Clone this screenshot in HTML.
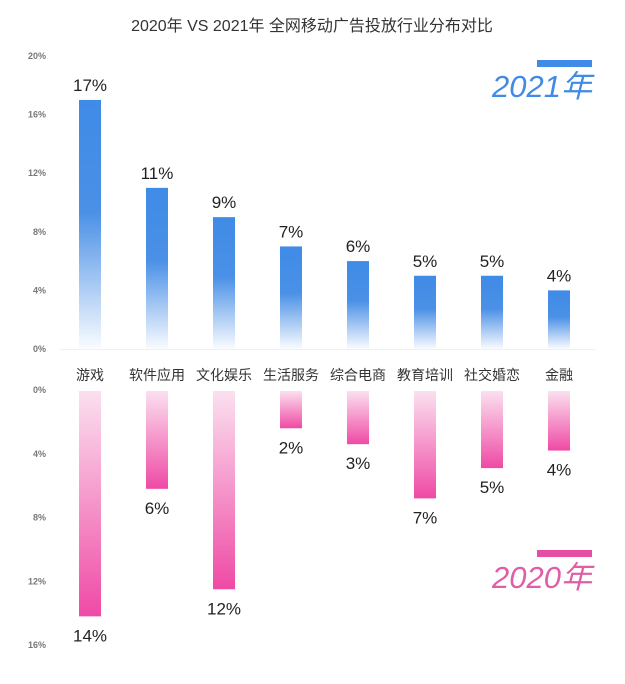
<!DOCTYPE html>
<html><head><meta charset="utf-8"><style>
body{margin:0;background:#fff;}
svg text{font-family:"Liberation Sans","Noto Sans CJK SC",sans-serif;}
</style></head><body>
<svg width="625" height="679" viewBox="0 0 625 679">
<defs>
<linearGradient id="gb" x1="0" y1="1" x2="0" y2="0"><stop offset="0" stop-color="#fafcff"/><stop offset="0.55" stop-color="#4a90e6"/><stop offset="1" stop-color="#3f8be6"/></linearGradient>
<linearGradient id="gp" x1="0" y1="0" x2="0" y2="1"><stop offset="0" stop-color="#fbe0ef"/><stop offset="1" stop-color="#ef4aa5"/></linearGradient>
</defs>
<text x="312" y="31" text-anchor="middle" font-size="16" fill="#333">2020年 VS 2021年 全网移动广告投放行业分布对比</text>
<rect x="537" y="60" width="55" height="7" fill="#3f8be6"/>
<text x="592" y="97" text-anchor="end" font-size="31" font-style="italic" fill="#3f8be6">2021年</text>
<rect x="537" y="550" width="55" height="7" fill="#e64ea5"/>
<text x="592" y="588" text-anchor="end" font-size="31" font-style="italic" fill="#e05ea8">2020年</text>
<g id="top"></g><g id="bot"></g><g id="cats"></g>
</svg>
<script>
const categories=["游戏","软件应用","文化娱乐","生活服务","综合电商","教育培训","社交婚恋","金融"];
const values2021=[17,11,9,7,6,5,5,4];
const labels2021=["17%","11%","9%","7%","6%","5%","5%","4%"];
const values2020=[14.2,6.2,12.5,2.4,3.4,6.8,4.9,3.8];
const labels2020=["14%","6%","12%","2%","3%","7%","5%","4%"];
const ticksTop=[0,4,8,12,16,20];
const ticksBot=[0,4,8,12,16];
const NS="http://www.w3.org/2000/svg";
const xC=i=>90+i*67;
const yTop=v=>349-v*14.65;
const yBot=v=>390+v*15.94;
function mk(tag,attrs,parent,txt){const e=document.createElementNS(NS,tag);for(const k in attrs)e.setAttribute(k,attrs[k]);if(txt!==undefined)e.textContent=txt;parent.appendChild(e);return e;}
const gT=document.getElementById('top'),gB=document.getElementById('bot'),gC=document.getElementById('cats');
let l=mk('line',{x1:60,x2:595,y1:349.5,y2:349.5,stroke:'#f0f0f0'},gT);


ticksTop.forEach(t=>{const e=mk('text',{x:46,y:yTop(t)+3,'text-anchor':'end','font-size':9,'font-weight':'bold',fill:'#777'},gT,t+'%');

});
ticksBot.forEach(t=>{const e=mk('text',{x:46,y:yBot(t)+3,'text-anchor':'end','font-size':9,'font-weight':'bold',fill:'#777'},gB,t+'%');

});
categories.forEach((c,i)=>{
const x=xC(i);
const y=yTop(values2021[i]);
const b=mk('rect',{x:x-11,y:y,width:22,height:349-y,fill:'url(#gb)'},gT);


const t=mk('text',{x:x,y:y-9,'text-anchor':'middle','font-size':17,fill:'#222'},gT,labels2021[i]);


const ye=yBot(values2020[i]);
const b2=mk('rect',{x:x-11,y:391,width:22,height:ye-391,fill:'url(#gp)'},gB);


const t2=mk('text',{x:x,y:ye+25,'text-anchor':'middle','font-size':17,fill:'#222'},gB,labels2020[i]);


const ct=mk('text',{x:x,y:380,'text-anchor':'middle','font-size':14,fill:'#333'},gC,c);


});
</script>
</body></html>
